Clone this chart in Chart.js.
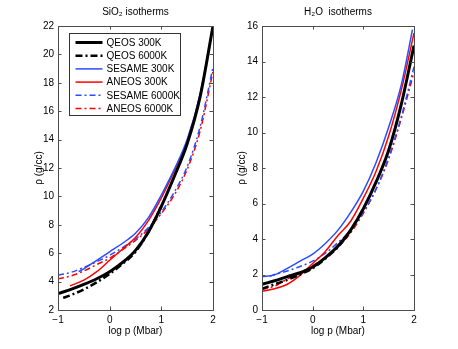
<!DOCTYPE html>
<html>
<head>
<meta charset="utf-8">
<script src="https://cdn.jsdelivr.net/npm/chart.js@4/dist/chart.umd.min.js"></script>
<style>
  html, body { margin: 0; padding: 0; background: #fff; }
  #wrap { position: relative; width: 458px; height: 349px; }
  #c1 { position: absolute; left: 0; top: 0; }
  #c2 { position: absolute; left: 229px; top: 0; }
</style>
</head>
<body>
<div id="wrap">
  <canvas id="c1" width="229" height="349"></canvas>
  <canvas id="c2" width="229" height="349"></canvas>
</div>
<script>
// ---------- data ----------
const seriesNames = ['QEOS 300K', 'QEOS 6000K', 'SESAME 300K', 'ANEOS 300K', 'SESAME 6000K', 'ANEOS 6000K'];
const xTicks = [-1, 0, 1, 2];

// SiO2 isotherms (x = log p [Mbar], y = rho [g/cc])
const sio2_qeos300_x   = [-1, -0.75, -0.5, -0.25, 0, 0.25, 0.5, 0.75, 1, 1.25, 1.5, 1.75, 2];
const sio2_qeos300_y   = [3.15, 3.45, 3.8, 4.2, 4.7, 5.35, 6.2, 7.5, 9.3, 11.4, 13.7, 17.0, 22.0];
const sio2_qeos6000_x  = [-0.9, -0.75, -0.5, -0.25, 0, 0.25, 0.5, 0.75, 1];
const sio2_qeos6000_y  = [2.85, 3.05, 3.45, 3.95, 4.55, 5.25, 6.1, 7.5, 9.3];
const sio2_ses300_x    = [-0.6, -0.5, -0.25, 0, 0.25, 0.5, 0.75, 1, 1.25, 1.5, 1.75, 2];
const sio2_ses300_y    = [4.7, 4.9, 5.5, 6.1, 6.7, 7.4, 8.5, 10.1, 11.9, 14.0, 17.2, 22.0];
const sio2_aneos300_x  = [-0.77, -0.5, -0.25, 0, 0.25, 0.5, 0.75, 1, 1.25, 1.5, 1.75, 2];
const sio2_aneos300_y  = [3.7, 4.1, 4.7, 5.5, 6.3, 7.1, 8.3, 9.9, 11.8, 13.9, 17.1, 22.0];
const sio2_ses6000_x   = [-1, -0.75, -0.5, -0.25, 0, 0.25, 0.5, 0.75, 1, 1.25, 1.5, 1.75, 2];
const sio2_ses6000_y   = [4.45, 4.65, 5.0, 5.4, 5.85, 6.4, 7.0, 7.8, 8.9, 10.3, 12.1, 14.9, 19.1];
const sio2_aneos6000_x = [-1, -0.75, -0.5, -0.25, 0, 0.25, 0.5, 0.75, 1, 1.25, 1.5, 1.75, 2];
const sio2_aneos6000_y = [4.2, 4.4, 4.75, 5.2, 5.65, 6.25, 6.9, 7.7, 8.8, 10.1, 11.9, 14.6, 18.8];

// H2O isotherms
const h2o_qeos300_x   = [-1, -0.75, -0.5, -0.25, 0, 0.25, 0.5, 0.75, 1, 1.25, 1.5, 1.75, 2];
const h2o_qeos300_y   = [1.45, 1.65, 1.88, 2.1, 2.42, 2.95, 3.6, 4.5, 5.7, 7.2, 9.0, 11.6, 14.9];
const h2o_qeos6000_x  = [-1, -0.75, -0.5, -0.25, 0, 0.25, 0.5, 0.75];
const h2o_qeos6000_y  = [1.2, 1.45, 1.7, 2.0, 2.35, 2.9, 3.55, 4.45];
const h2o_ses300_x    = [-1, -0.75, -0.5, -0.25, 0, 0.25, 0.5, 0.75, 1, 1.25, 1.5, 1.75, 1.97];
const h2o_ses300_y    = [1.88, 1.98, 2.35, 2.75, 3.15, 3.75, 4.5, 5.5, 6.7, 8.3, 10.3, 12.7, 15.8];
const h2o_aneos300_x  = [-1, -0.75, -0.5, -0.25, 0, 0.25, 0.5, 0.75, 1, 1.25, 1.5, 1.75, 2];
const h2o_aneos300_y  = [1.05, 1.2, 1.45, 1.95, 2.62, 3.3, 4.2, 5.0, 6.3, 7.8, 9.8, 12.4, 15.6];
const h2o_ses6000_x   = [-0.85, -0.75, -0.5, -0.25, 0, 0.25, 0.5, 0.75, 1, 1.25, 1.5, 1.75, 2];
const h2o_ses6000_y   = [1.9, 2.0, 2.2, 2.45, 2.75, 3.2, 3.8, 4.5, 5.5, 6.8, 8.6, 10.9, 13.7];
const h2o_aneos6000_x = [-1, -0.75, -0.5, -0.25, 0, 0.25, 0.5, 0.75, 1, 1.25, 1.5, 1.75, 2];
const h2o_aneos6000_y = [1.15, 1.35, 1.75, 2.1, 2.5, 2.95, 3.55, 4.35, 5.45, 6.8, 8.5, 10.8, 13.4];

// ---------- styles ----------
const FONT = "'Liberation Sans', Arial, Helvetica, sans-serif";
const BLUE = '#2b4cff';
const RED = '#ff0000';
const styles = [
  { color: '#000000', width: 3,   dash: [] },
  { color: '#000000', width: 2.5, dash: [7, 3, 2, 3] },
  { color: BLUE,      width: 1.5, dash: [] },
  { color: RED,       width: 1.5, dash: [] },
  { color: BLUE,      width: 1.5, dash: [6, 3, 2, 3] },
  { color: RED,       width: 1.5, dash: [6, 3, 2, 3] }
];

function pts(xs, ys) { return xs.map((x, i) => ({ x: x, y: ys[i] })); }

function makeDatasets(pairs) {
  return pairs.map((p, i) => ({
    label: seriesNames[i],
    data: pts(p[0], p[1]),
    borderColor: styles[i].color,
    backgroundColor: styles[i].color,
    borderWidth: styles[i].width,
    borderDash: styles[i].dash,
    pointRadius: 0,
    showLine: true,
    fill: false,
    cubicInterpolationMode: 'monotone'
  }));
}

function fmtX(v) { return v < 0 ? '\u2212' + Math.abs(v) : String(v); }

// Matlab-style box + inward ticks
const boxPlugin = {
  id: 'boxTicks',
  afterDatasetsDraw(chart) {
    const ctx = chart.ctx, a = chart.chartArea;
    const xs = chart.scales.x, ys = chart.scales.y;
    ctx.save();
    ctx.strokeStyle = '#4d4d4d';
    ctx.lineWidth = 1;
    ctx.setLineDash([]);
    ctx.beginPath();
    const L = 3.5;
    xs.ticks.forEach(t => {
      const px = Math.round(xs.getPixelForValue(t.value)) + 0.5;
      ctx.moveTo(px, a.bottom); ctx.lineTo(px, a.bottom - L);
      ctx.moveTo(px, a.top); ctx.lineTo(px, a.top + L);
    });
    ys.ticks.forEach(t => {
      const py = Math.round(ys.getPixelForValue(t.value)) + 0.5;
      ctx.moveTo(a.left, py); ctx.lineTo(a.left + L, py);
      ctx.moveTo(a.right, py); ctx.lineTo(a.right - L, py);
    });
    ctx.stroke();
    ctx.strokeRect(Math.round(a.left) + 0.5, Math.round(a.top) + 0.5,
                   Math.round(a.right - a.left), Math.round(a.bottom - a.top));
    ctx.restore();
  }
};

// legend drawn inside the left axes
const insideLegend = {
  id: 'insideLegend',
  afterDraw(chart, args, opts) {
    if (!opts || !opts.show) return;
    const ctx = chart.ctx, a = chart.chartArea;
    const bx = Math.round(a.left + 11) + 0.5, by = Math.round(a.top + 7) + 0.5;
    const bw = 111, bh = 82;
    ctx.save();
    ctx.fillStyle = '#fff';
    ctx.fillRect(bx, by, bw, bh);
    ctx.strokeStyle = '#333';
    ctx.lineWidth = 1;
    ctx.setLineDash([]);
    ctx.strokeRect(bx, by, bw, bh);
    ctx.font = '10px ' + FONT;
    ctx.textBaseline = 'middle';
    ctx.fillStyle = '#000';
    chart.data.datasets.forEach((ds, i) => {
      const y = by + 9 + i * 13.2;
      ctx.beginPath();
      ctx.strokeStyle = ds.borderColor;
      ctx.lineWidth = ds.borderWidth;
      ctx.setLineDash(ds.borderDash || []);
      ctx.moveTo(bx + 6, y); ctx.lineTo(bx + 33, y);
      ctx.stroke();
      ctx.setLineDash([]);
      ctx.fillStyle = '#000';
      ctx.fillText(ds.label, bx + 37, y + 0.5);
    });
    ctx.restore();
  }
};

function makeChart(id, title, pairs, yMin, yMax, pad, yW, yTitlePadTop, showLegend) {
  return new Chart(document.getElementById(id), {
    type: 'scatter',
    data: { datasets: makeDatasets(pairs) },
    options: {
      responsive: false,
      animation: false,
      layout: { padding: pad },
      plugins: {
        legend: { display: false },
        tooltip: { enabled: false },
        title: {
          display: true, text: title, fullSize: false,
          color: '#000', font: { family: FONT, size: 10, weight: 'normal' },
          padding: { top: 6, bottom: 8 }
        },
        insideLegend: { show: showLegend }
      },
      scales: {
        x: {
          type: 'linear', min: -1, max: 2,
          afterBuildTicks: s => { s.ticks = xTicks.map(v => ({ value: v })); },
          afterFit: s => { s.height = 29; },
          grid: { display: false, drawTicks: false },
          border: { display: false },
          ticks: { padding: 4, color: '#000', font: { family: FONT, size: 10 }, callback: v => fmtX(v), maxRotation: 0 },
          title: { display: true, text: 'log p (Mbar)', color: '#000', font: { family: FONT, size: 10 }, padding: { top: 0, bottom: 2 } }
        },
        y: {
          type: 'linear', min: yMin, max: yMax,
          ticks: { stepSize: 2, padding: 4, color: '#000', font: { family: FONT, size: 10 } },
          afterFit: s => { s.width = yW; },
          grid: { display: false, drawTicks: false },
          border: { display: false },
          title: { display: true, text: 'ρ (g/cc)', color: '#000', font: { family: FONT, size: 10 }, padding: { top: yTitlePadTop, bottom: 0 } }
        }
      }
    },
    plugins: [boxPlugin, insideLegend]
  });
}

makeChart('c1', 'SiO\u2082 isotherms',
  [[sio2_qeos300_x, sio2_qeos300_y], [sio2_qeos6000_x, sio2_qeos6000_y],
   [sio2_ses300_x, sio2_ses300_y], [sio2_aneos300_x, sio2_aneos300_y],
   [sio2_ses6000_x, sio2_ses6000_y], [sio2_aneos6000_x, sio2_aneos6000_y]],
  2, 22, { left: 30, right: 16, top: 0, bottom: 10 }, 28, 3, true);

makeChart('c2', 'H\u2082O  isotherms',
  [[h2o_qeos300_x, h2o_qeos300_y], [h2o_qeos6000_x, h2o_qeos6000_y],
   [h2o_ses300_x, h2o_ses300_y], [h2o_aneos300_x, h2o_aneos300_y],
   [h2o_ses6000_x, h2o_ses6000_y], [h2o_aneos6000_x, h2o_aneos6000_y]],
  0, 16, { left: 4, right: 44, top: 0, bottom: 10 }, 29, 3, false);
</script>
</body>
</html>
